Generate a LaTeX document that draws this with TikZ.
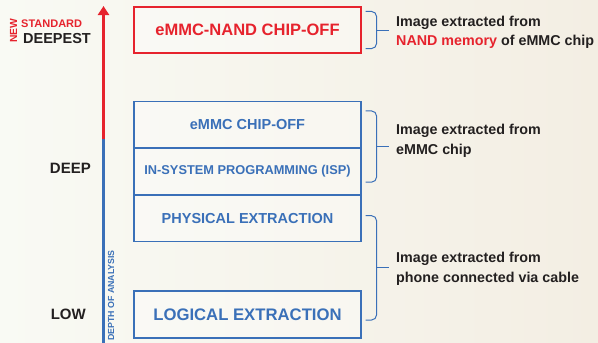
\documentclass[tikz,border=0pt]{standalone}
\usepackage{fontspec}
\setmainfont{Liberation Sans}
\usetikzlibrary{arrows.meta, positioning, calc}
\definecolor{myred}{RGB}{230,35,45}
\definecolor{myblue}{RGB}{58,112,184}
\definecolor{mydark}{RGB}{35,32,32}
\definecolor{bgleft}{RGB}{249,250,244}
\definecolor{bgright}{RGB}{243,238,227}
\tikzset{
  block/.style={rectangle, draw=myblue, fill=white, fill opacity=0.35,
    text opacity=1, text=myblue, minimum width=227pt, minimum height=46pt,
    line width=1.1pt, inner sep=0pt, font=\bfseries\fontsize{14.5}{16}\selectfont},
  redblock/.style={block, draw=myred, text=myred,
    font=\bfseries\fontsize{16.5}{18}\selectfont},
  brace/.style={myblue, line width=1pt, rounded corners=5pt},
  note/.style={anchor=north west, inner sep=0pt, align=left, text=mydark,
    font=\bfseries\fontsize{14.3}{19.5}\selectfont},
  level/.style={anchor=base east, inner sep=0pt, text=mydark,
    font=\bfseries\fontsize{15}{15}\selectfont},
  axis/.style={line width=3pt}
}
\begin{document}
\begin{tikzpicture}[x=1pt, y=-1pt]
  % background
  \useasboundingbox (0,0) rectangle (598,343);
  \fill[left color=bgleft, right color=bgright] (0,0) rectangle (598,343);

  % depth axis
  \coordinate (abot) at (103.5,343);
  \coordinate (amid) at (103.5,139);
  \coordinate (atop) at (103.5,6);
  \draw[axis, myblue] (abot) -- (amid);
  \draw[axis, myred, -{Triangle[width=11pt, length=9pt]}] (amid) -- (atop);
  \node[rotate=90, anchor=base west, inner sep=0pt, text=myblue,
    font=\bfseries\fontsize{8.8}{9}\selectfont] (depth) at (114,341) {DEPTH OF ANALYSIS};

  % levels
  \node[rotate=90, anchor=base west, inner sep=0pt, text=myred,
    font=\bfseries\fontsize{10.3}{11}\selectfont] (new) at (17,43) {NEW};
  \node[anchor=base west, inner sep=0pt, text=myred,
    font=\bfseries\fontsize{11}{11}\selectfont] (standard) at (21,27) {STANDARD};
  \node[level, font=\bfseries\fontsize{14.5}{15}\selectfont] (deepest) at (91,43) {DEEPEST};
  \node[level] (deep) at (91,173) {DEEP};
  \node[level] (low) at (86,319) {LOW};

  % methods
  \node[redblock] (nand) at (247.5,30) {eMMC-NAND CHIP-OFF};
  \node[block] (emmc) at (247.5,124.5) {eMMC CHIP-OFF};
  \node[block, below=0pt of emmc, font=\bfseries\fontsize{12.8}{14}\selectfont] (isp) {IN-SYSTEM PROGRAMMING (ISP)};
  \node[block, below=0pt of isp] (phys) {PHYSICAL EXTRACTION};
  \node[block, minimum height=47pt, font=\bfseries\fontsize{16.7}{18}\selectfont] (logic) at (247.5,314.5) {LOGICAL EXTRACTION};

  % braces
  \coordinate (tip1) at ($(nand.east)+(15,0)$);
  \draw[brace] ($(nand.north east)+(4,5)$) -| (tip1) |- ($(nand.south east)+(4,-5)$);
  \draw[brace] (tip1) -- ++(12,0);

  \coordinate (tip2) at ($(emmc.south east)+(15,-1.5)$);
  \draw[brace] ($(emmc.north east)+(4,10)$) -| (tip2) |- ($(isp.south east)+(4,-13)$);
  \draw[brace] (tip2) -- ++(12,0);

  \coordinate (top3) at ($(phys.east)+(4,-3)$);
  \coordinate (bot3) at ($(logic.east)+(4,5.5)$);
  \coordinate (tip3) at ($($(top3)!0.5!(bot3)$)+(11,0)$);
  \draw[brace] (top3) -| (tip3) |- (bot3);
  \draw[brace] (tip3) -- ++(12,0);

  % notes
  \node[note] (note1) at (396,15.8) {Image extracted from\\{\color{myred}NAND memory} of eMMC chip};
  \node[note] (note2) at (396,124) {Image extracted from\\eMMC chip};
  \node[note] (note3) at (396,252) {Image extracted from\\phone connected via cable};
\end{tikzpicture}
\end{document}
